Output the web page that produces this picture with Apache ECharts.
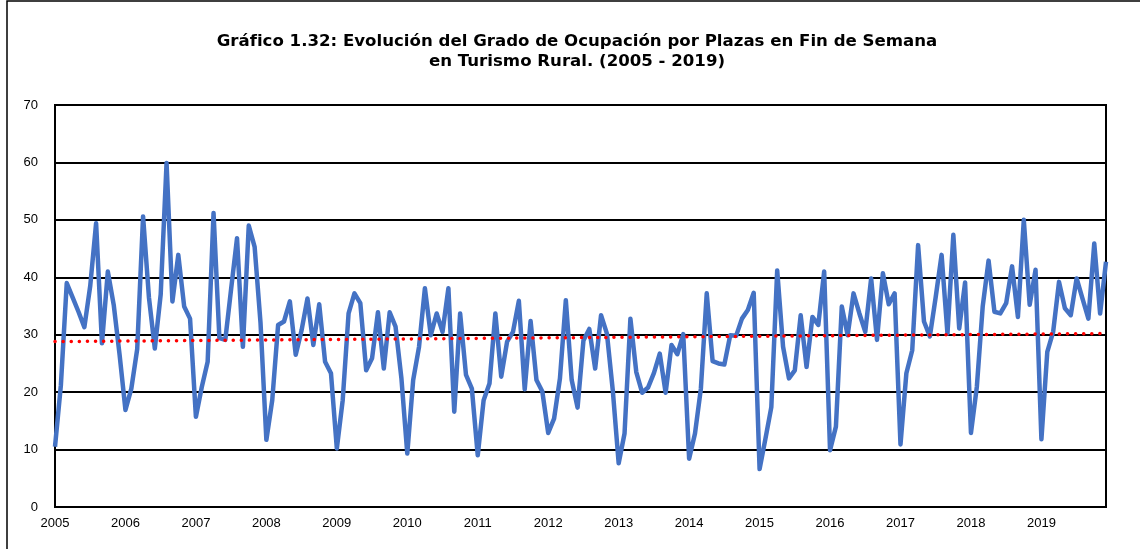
<!DOCTYPE html>
<html lang="es">
<head>
  <meta charset="utf-8">
  <style>
    html, body { margin: 0; height: 100%; background: #fff; }
    #container { width: 1140px; height: 549px; }
  </style>
</head>
<body>
  <div id="container"></div>
  <script src="https://cdn.jsdelivr.net/npm/echarts@6/dist/echarts.min.js"></script>
  <script>
    // años y meses del eje X
    var years = ['2005', '2006', '2007', '2008', '2009', '2010', '2011', '2012',
                 '2013', '2014', '2015', '2016', '2017', '2018', '2019']
    var months = ['01', '02', '03', '04', '05', '06', '07', '08', '09', '10', '11', '12']

    // grado de ocupación por plazas en fin de semana (%), mensual
    var ocupacion = [
      10.5, 21.2, 39.0, 36.5, 34.0, 31.3, 38.5, 49.4, 28.5, 41.0, 35.2, 26.5,
      16.9, 20.6, 27.5, 50.6, 36.5, 27.6, 37.0, 59.9, 35.8, 43.9, 34.9, 32.8,
      15.7, 20.9, 25.3, 51.2, 29.4, 29.1, 38.0, 46.8, 27.9, 49.0, 45.3, 32.1,
      11.7, 18.6, 31.7, 32.3, 35.8, 26.5, 30.8, 36.3, 28.2, 35.3, 25.3, 23.3,
      10.2, 18.6, 33.7, 37.2, 35.5, 23.8, 25.9, 33.9, 24.1, 33.9, 31.4, 22.4,
      9.3, 22.1, 27.9, 38.1, 29.9, 33.7, 30.5, 38.1, 16.6, 33.7, 23.0, 20.6,
      9.0, 18.6, 21.5, 33.7, 22.7, 28.8, 30.5, 35.9, 20.5, 32.4, 22.1, 20.1,
      12.9, 15.4, 22.4, 36.0, 22.1, 17.3, 29.0, 31.0, 24.1, 33.4, 30.2, 20.3,
      7.6, 12.8, 32.8, 23.5, 19.9, 20.8, 23.3, 26.7, 19.9, 28.2, 26.6, 30.1,
      8.4, 12.8, 20.6, 37.2, 25.4, 25.0, 24.8, 29.9, 29.8, 32.8, 34.3, 37.3,
      6.6, 11.9, 17.4, 41.2, 27.9, 22.4, 23.8, 33.4, 24.4, 33.1, 31.7, 41.0,
      9.9, 14.0, 34.9, 29.9, 37.2, 33.7, 30.5, 39.8, 29.1, 40.7, 35.3, 37.2,
      10.9, 23.3, 27.3, 45.6, 32.3, 29.7, 36.6, 43.9, 30.2, 47.4, 31.1, 39.1,
      12.9, 20.9, 34.9, 42.9, 34.0, 33.7, 35.5, 41.9, 33.1, 50.0, 35.2, 41.3,
      11.8, 27.0, 30.5, 39.2, 34.6, 33.4, 39.8, 36.3, 32.8, 45.9, 33.7, 42.7
    ]

    // línea de tendencia: valor inicial y final
    var tendencia = [28.8, 30.2]

    var yTicks = [0, 10, 20, 30, 40, 50, 60, 70]

    var categorias = []
    years.forEach(function (y) {
      months.forEach(function (m) { categorias.push(y + '-' + m) })
    })

    var myChart = echarts.init(document.getElementById('container'), null, { renderer: 'canvas' })

    var option = {
      animation: false,
      backgroundColor: '#fff',
      title: {
        text: 'Gráfico 1.32: Evolución del Grado de Ocupación por Plazas en Fin de Semana\nen Turismo Rural. (2005 - 2019)',
        left: 577,
        top: 32,
        padding: 0,
        textAlign: 'center',
        textStyle: {
          fontFamily: 'DejaVu Sans',
          fontSize: 16.6,
          fontWeight: 'bold',
          color: '#000',
          lineHeight: 20
        }
      },
      graphic: [{
        type: 'rect',
        shape: { x: 7, y: 1, width: 1300, height: 700 },
        style: { fill: null, stroke: '#000', lineWidth: 1.5 },
        silent: true
      }],
      grid: {
        left: 55,
        top: 105,
        right: 34,
        bottom: 42,
        show: true,
        borderColor: '#000',
        borderWidth: 2
      },
      xAxis: {
        type: 'category',
        data: categorias,
        boundaryGap: false,
        axisLine: { show: false },
        axisTick: { show: false },
        axisLabel: {
          interval: 11,
          margin: 10,
          fontFamily: 'Liberation Sans',
          fontSize: 13,
          color: '#000',
          formatter: function (v) { return v.slice(0, 4) }
        },
        splitLine: { show: false }
      },
      yAxis: {
        type: 'value',
        min: yTicks[0],
        max: yTicks[yTicks.length - 1],
        interval: 10,
        axisLine: { show: false },
        axisTick: { show: false },
        axisLabel: {
          margin: 17,
          fontFamily: 'Liberation Sans',
          fontSize: 13,
          color: '#000'
        },
        splitLine: { lineStyle: { color: '#000', width: 2 } }
      },
      series: [{
        name: 'Ocupación',
        type: 'line',
        data: ocupacion,
        symbol: 'none',
        lineStyle: { color: '#4472C4', width: 4.5, join: 'round' },
        z: 3,
        markLine: {
          silent: true,
          symbol: ['none', 'none'],
          label: { show: false },
          lineStyle: { color: '#FF0000', width: 3.5, type: [0.1, 8], cap: 'round' },
          data: [[
            { coord: [categorias[0], tendencia[0]] },
            { coord: [categorias[categorias.length - 1], tendencia[1]] }
          ]]
        }
      }]
    }

    myChart.setOption(option)
    window.addEventListener('resize', myChart.resize)
  </script>
</body>
</html>
